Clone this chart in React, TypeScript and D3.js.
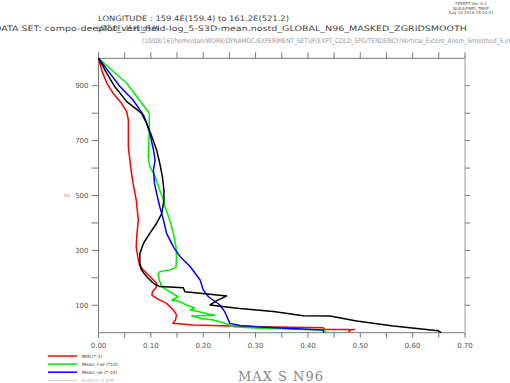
import React from "react";
import * as d3 from "d3";

// [value, Z] pairs
const minSeries: [number, number][] = [
  [0, 1000], [0.006, 957], [0.016, 909], [0.028, 872], [0.044, 836], [0.054, 805], [0.057, 775],
  [0.057, 678], [0.06, 629], [0.063, 581], [0.066, 544], [0.072, 484], [0.076, 411], [0.073, 350],
  [0.072, 313], [0.076, 265], [0.079, 243], [0.092, 216], [0.105, 192], [0.111, 180], [0.11, 165],
  [0.103, 149], [0.102, 137], [0.111, 125], [0.13, 107], [0.143, 83], [0.149, 65], [0.147, 46],
  [0.142, 34], [0.181, 28], [0.308, 22], [0.429, 18], [0.432, 12], [0.478, 12], [0.479, 3],
  [0.481, 11], [0.49, 12],
];
const meanPos: [number, number][] = [
  [0, 1000], [0.054, 909], [0.097, 800], [0.097, 739], [0.095, 641], [0.098, 605], [0.108, 569],
  [0.117, 520], [0.124, 484], [0.127, 459], [0.136, 411], [0.143, 362], [0.148, 313], [0.149, 277],
  [0.148, 238], [0.136, 229], [0.117, 222], [0.114, 216], [0.116, 192], [0.121, 168], [0.13, 156],
  [0.152, 131], [0.14, 119], [0.156, 113], [0.168, 101], [0.184, 89], [0.175, 83], [0.19, 77],
  [0.21, 68], [0.222, 64], [0.178, 61], [0.197, 52], [0.219, 46], [0.238, 36], [0.251, 28],
  [0.257, 22], [0.308, 16], [0.429, 10], [0.432, 6], [0.436, 0],
];
const meanNeg: [number, number][] = [
  [0, 1000], [0.022, 945], [0.041, 897], [0.066, 848], [0.086, 793], [0.092, 763], [0.098, 727],
  [0.105, 666], [0.108, 629], [0.105, 593], [0.107, 544], [0.111, 508], [0.117, 459], [0.124, 411],
  [0.13, 362], [0.143, 313], [0.156, 277], [0.175, 241], [0.194, 192], [0.2, 156], [0.21, 131],
  [0.232, 101], [0.241, 77], [0.248, 46], [0.251, 34], [0.27, 26], [0.308, 21], [0.429, 10],
  [0.43, 0],
];
const maxSeries: [number, number][] = [
  [0, 1000], [0.016, 945], [0.031, 897], [0.054, 842], [0.082, 800], [0.092, 763], [0.102, 714],
  [0.111, 666], [0.117, 617], [0.122, 569], [0.125, 520], [0.125, 484], [0.121, 435], [0.111, 399],
  [0.098, 362], [0.086, 326], [0.079, 289], [0.079, 253], [0.082, 229], [0.092, 204], [0.105, 180],
  [0.117, 168], [0.162, 164], [0.165, 149], [0.194, 144], [0.245, 134], [0.226, 117], [0.213, 101],
  [0.257, 91], [0.27, 88], [0.334, 77], [0.391, 62], [0.442, 61], [0.493, 43], [0.563, 24],
  [0.649, 7], [0.655, 0],
];

const xMajorTicks = [0, 0.1, 0.2, 0.3, 0.4, 0.5, 0.6, 0.7];
const xMinorTicks = [0.05, 0.15, 0.25, 0.35, 0.45, 0.55, 0.65];
const yTicks = [100, 200, 300, 400, 500, 600, 700, 800, 900];
const yLabels = [100, 300, 500, 700, 900];

const legendItems = [
  { label: "MIN (*-1)", color: "#ff0000" },
  { label: "Mean +ve (*10)", color: "#00ee00" },
  { label: "Mean -ve (*-10)", color: "#0000ff" },
  { label: "Bottom of KPP", color: "#cccccc" },
];

const series = [
  { data: minSeries, color: "#ff0000" },
  { data: meanPos, color: "#00ee00" },
  { data: meanNeg, color: "#0000ff" },
  { data: maxSeries, color: "#000000" },
];

export default function App() {
  const L = 98.5, R = 465, T = 58.3, B = 332.7;
  const x = d3.scaleLinear().domain([0, 0.7]).range([L, R]);
  const y = d3.scaleLinear().domain([0, 1000]).range([B, T]);
  const line = d3.line<[number, number]>().x((d) => x(d[0])).y((d) => y(d[1]));
  const axisColor = "#777";
  const font = "DejaVu Sans, sans-serif";

  return (
    <svg width={510} height={383} style={{ position: "absolute", left: 0, top: 0, background: "#fff" }}
      fontFamily={font}>
      {/* header */}
      <g fill="#555" fontSize={4}>
        <text x={471} y={5} textAnchor="middle">FERRET Ver. 6.1</text>
        <text x={471} y={9.5} textAnchor="middle">NOAA/PMEL TMAP</text>
        <text x={471} y={14} textAnchor="middle">Aug 10 2016 15:04:31</text>
      </g>
      <text x={98} y={21} fontSize={7.5} fill="#444" textLength={191} lengthAdjust="spacingAndGlyphs">
        LONGITUDE : 159.4E(159.4) to 161.2E(521.2)
      </text>
      <text x={-6} y={30.5} fontSize={7.5} fill="#444" textLength={473} lengthAdjust="spacingAndGlyphs">
        DATA SET: compo-deeplot_vert_field-log_5-S3D-mean.nostd_GLOBAL_N96_MASKED_ZGRIDSMOOTH
      </text>
      <text x={97} y={30.5} fontSize={7.5} fill="#444" textLength={62} lengthAdjust="spacingAndGlyphs">
        LATITUDE : 15.9S to 9.6N
      </text>
      <text x={142} y={43} fontSize={6.5} fill="#999" textLength={370} lengthAdjust="spacingAndGlyphs">
        [10/08/16]/home/dan/WORK/DYNAMOC/EXPERIMENT_SETUP/EXPT_COLD_SPG/TENDENCY/Vertical_Extent_Anom_Smoothed_S.jnl
      </text>

      {/* axes frame */}
      <line x1={L} x2={R} y1={T} y2={T} stroke={axisColor} strokeWidth={1} />
      <line x1={L} x2={R} y1={B} y2={B} stroke={axisColor} strokeWidth={1} />
      <line x1={L} x2={L} y1={T} y2={B} stroke={axisColor} strokeWidth={1} />
      <line x1={R} x2={R} y1={T - 2} y2={B + 2} stroke="#ccc" strokeWidth={2} />

      {/* x ticks */}
      {[...xMajorTicks, ...xMinorTicks].map((t) => (
        <g key={"xt" + t}>
          <line x1={x(t)} x2={x(t)} y1={B} y2={B + 5} stroke={axisColor} />
          <line x1={x(t)} x2={x(t)} y1={T} y2={T - 6} stroke={axisColor} />
        </g>
      ))}
      {xMajorTicks.map((t) => (
        <text key={"xl" + t} x={x(t)} y={348} fontSize={7} fill="#555" textAnchor="middle">
          {t.toFixed(2)}
        </text>
      ))}

      {/* y ticks */}
      {yTicks.map((t) => (
        <g key={"yt" + t}>
          <line x1={L} x2={L - 7} y1={y(t)} y2={y(t)} stroke={axisColor} />
          <line x1={R} x2={R + 5} y1={y(t)} y2={y(t)} stroke={axisColor} />
        </g>
      ))}
      {yLabels.map((t) => (
        <text key={"yl" + t} x={88.5} y={y(t) + 2.5} fontSize={7} fill="#555" textAnchor="end">
          {t}
        </text>
      ))}
      <text x={0} y={0} fontSize={6} fill="#999" textAnchor="middle"
        transform={`translate(69,${y(500)}) rotate(-90)`}>Z</text>

      {/* series */}
      {series.map((s, i) => (
        <path key={i} d={line(s.data) || ""} fill="none" stroke={s.color} strokeWidth={1.5}
          strokeLinejoin="round" />
      ))}

      {/* legend */}
      {legendItems.map((it, i) => (
        <g key={it.label}>
          <line x1={48} x2={77} y1={356 + i * 8.1} y2={356 + i * 8.1} stroke={it.color}
            strokeWidth={i === 3 ? 1 : 1.5} />
          <text x={82} y={358 + i * 8.1} fontSize={4.5} fill={i === 3 ? "#bbb" : "#333"}>{it.label}</text>
        </g>
      ))}

      <text x={281} y={381} fontSize={13} fill="#888" textAnchor="middle"
        fontFamily="DejaVu Serif, serif" letterSpacing={1}>MAX S N96</text>
    </svg>
  );
}
